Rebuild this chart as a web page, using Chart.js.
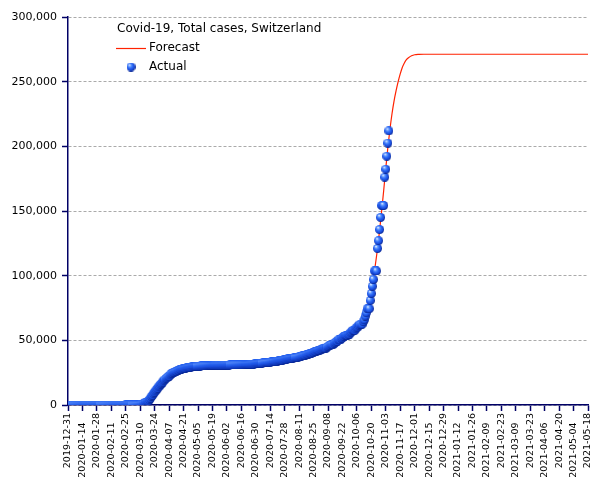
<!DOCTYPE html>
<html>
<head>
<meta charset="utf-8">
<script src="https://cdn.jsdelivr.net/npm/chart.js@4.4.0/dist/chart.umd.min.js"></script>
<style>
  html, body { margin: 0; padding: 0; background: #fff; }
  #wrap { width: 605px; height: 480px; }
</style>
</head>
<body>
<div id="wrap"><canvas id="chart" width="605" height="480"></canvas></div>
<script>
// x axis: day number counted from 2019-12-31, one tick every 14 days
const tickLabels = [
  '2019-12-31', '2020-01-14', '2020-01-28', '2020-02-11', '2020-02-25', '2020-03-10',
  '2020-03-24', '2020-04-07', '2020-04-21', '2020-05-05', '2020-05-19', '2020-06-02',
  '2020-06-16', '2020-06-30', '2020-07-14', '2020-07-28', '2020-08-11', '2020-08-25',
  '2020-09-08', '2020-09-22', '2020-10-06', '2020-10-20', '2020-11-03', '2020-11-17',
  '2020-12-01', '2020-12-15', '2020-12-29', '2021-01-12', '2021-01-26', '2021-02-09',
  '2021-02-23', '2021-03-09', '2021-03-23', '2021-04-06', '2021-04-20', '2021-05-04',
  '2021-05-18'
]
const yTicks = [0, 50000, 100000, 150000, 200000, 250000, 300000]

// actual total cases, one value per day
const actualDec = [0]
const actualJan = [0, 0, 0, 0, 0, 0, 0, 0, 0, 0, 0, 0, 0, 0, 0, 0, 0, 0, 0, 0, 0, 0, 0, 0, 0, 0, 0, 0, 0, 0, 0]
const actualFeb = [0, 0, 0, 0, 0, 0, 0, 0, 0, 0, 0, 0, 0, 0, 0, 0, 0, 0, 0, 0, 0, 0, 0, 0, 1, 1, 8, 8, 18]
const actualMar = [27, 42, 56, 90, 114, 214, 268, 337, 374, 491, 652, 652, 1139, 1359, 2200, 2200,
  2700, 3028, 4075, 5294, 6575, 7474, 8795, 9877, 10897, 11811, 12928, 14076, 14829, 15922, 16605]
const actualApr = [17768, 18827, 19606, 20505, 21100, 21657, 22253, 23280, 24051, 24551, 25107, 25415,
  25688, 25936, 26336, 26732, 27078, 27404, 27740, 27944, 28063, 28268, 28496, 28677, 28894, 29061,
  29164, 29264, 29407, 29586]
const actualMay = [29705, 29817, 29905, 29981, 30009, 30060, 30126, 30207, 30251, 30305, 30344, 30380,
  30413, 30463, 30514, 30572, 30587, 30597, 30618, 30658, 30694, 30707, 30725, 30736, 30746, 30761,
  30776, 30796, 30828, 30845, 30862]
const actualJun = [30871, 30874, 30893, 30913, 30936, 30956, 30965, 30972, 30988, 31011, 31044, 31063,
  31094, 31117, 31131, 31154, 31187, 31200, 31235, 31292, 31310, 31332, 31376, 31428, 31486, 31555,
  31617, 31652, 31714, 31851]
const actualJul = [31967, 32101, 32198, 32268, 32315, 32369, 32498, 32586, 32690, 32817, 32883, 32946,
  33016, 33148, 33290, 33382, 33591, 33634, 33742, 33883, 34000, 34154, 34302, 34477, 34609, 34687,
  34802, 34956, 35202, 35412, 35616]
const actualAug = [35746, 35836, 35927, 36108, 36269, 36451, 36603, 36708, 36841, 36936, 37169, 37403,
  37671, 37924, 38124, 38252, 38449, 38760, 39026, 39332, 39627, 39903, 40060, 40262, 40645, 40981,
  41346, 41722, 42014, 42177, 42393]
const actualSep = [42763, 43127, 43532, 43957, 43957, 43957, 44837, 45306, 45711, 46239, 46704, 46704,
  46704, 47751, 48265, 48795, 49283, 50378, 50378, 50378, 51492, 51864, 52646, 53282, 53832, 53832,
  53832, 54384, 54817, 55932]
const actualOct = [56632, 57709, 57709, 57709, 58881, 59870, 60368, 61421, 62416, 62416, 62416, 64436,
  65881, 68704, 71317, 74422, 74422, 74422, 80767, 86167, 91763, 97019, 103653, 103653, 103653,
  121093, 127042, 135658, 145044, 154251, 154251]
const actualNov = [154251, 176177, 182303, 192376, 202504, 211913]

// forecast (day number, total cases)
const forecastDays = [0, 60, 66, 70, 73, 76, 79, 82, 85, 88, 91, 95, 100, 105, 110, 115, 120, 130,
  140, 150, 165, 180, 195, 210, 225, 240, 255, 265, 275, 282, 286, 290, 292, 294, 296, 298, 300,
  302, 304, 306, 308, 310, 312, 314, 316, 318, 320, 322, 324, 326, 328, 330, 333, 336, 340, 345, 504]
const forecastValues = [0, 0, 300, 700, 1500, 3000, 5500, 8500, 11500, 14500, 17000, 20300, 23500,
  25800, 27300, 28400, 29200, 30000, 30400, 30700, 31000, 31600, 32700, 34200, 36800, 40800, 46000,
  50500, 55500, 60000, 65000, 72000, 79000, 88000, 98000, 109000, 121000, 135000, 150000, 166000,
  183000, 199000, 213000, 225000, 235000, 243000, 250000, 256000, 261000, 264500, 267000, 268500,
  270000, 270800, 271100, 271200, 271200]

const navy = '#000066'
const red = '#ff2200'

function makeBall(size) {
  const c = document.createElement('canvas')
  c.width = c.height = size
  const g = c.getContext('2d')
  const r = size / 2
  const grad = g.createRadialGradient(r * 0.65, r * 0.55, 0.2, r * 0.9, r * 0.85, r * 1.05)
  grad.addColorStop(0, '#eef4ff')
  grad.addColorStop(0.25, '#6a9fff')
  grad.addColorStop(0.55, '#2a68f5')
  grad.addColorStop(0.85, '#1748d8')
  grad.addColorStop(1, '#0a2a99')
  g.fillStyle = grad
  g.beginPath()
  g.arc(r, r, r, 0, Math.PI * 2)
  g.fill()
  return c
}
const ball = makeBall(9)

const actualCases = [].concat(actualDec, actualJan, actualFeb, actualMar, actualApr, actualMay,
  actualJun, actualJul, actualAug, actualSep, actualOct, actualNov)
const actualPoints = actualCases.map((v, i) => ({ x: i, y: v }))
const forecastPoints = forecastDays.map((d, i) => ({ x: d, y: forecastValues[i] }))

// legend sits inside the plot, top left
const insideLegend = {
  id: 'insideLegend',
  afterDraw(chart) {
    const ctx = chart.ctx
    ctx.save()
    ctx.fillStyle = '#000'
    ctx.font = '12px "DejaVu Sans"'
    ctx.textBaseline = 'middle'
    ctx.fillText('Covid-19, Total cases, Switzerland', 117, 29)
    ctx.strokeStyle = red
    ctx.lineWidth = 1.2
    ctx.beginPath()
    ctx.moveTo(116, 48.5)
    ctx.lineTo(146, 48.5)
    ctx.stroke()
    ctx.fillText(chart.data.datasets[1].label, 149, 48)
    ctx.drawImage(ball, 131 - 4.5, 67 - 4.5)
    ctx.fillText(chart.data.datasets[0].label, 149, 67)
    ctx.restore()
  }
}

new Chart(document.getElementById('chart'), {
  type: 'scatter',
  data: {
    datasets: [{
      label: 'Actual',
      data: actualPoints,
      showLine: false,
      pointStyle: ball,
      pointRadius: 4.5,
      order: 0
    }, {
      label: 'Forecast',
      data: forecastPoints,
      showLine: true,
      borderColor: red,
      borderWidth: 1.2,
      pointRadius: 0,
      cubicInterpolationMode: 'monotone',
      order: 1
    }]
  },
  options: {
    responsive: false,
    animation: false,
    devicePixelRatio: 1,
    layout: { padding: { left: 0, right: 17, top: 17, bottom: 0 } },
    plugins: {
      legend: { display: false },
      tooltip: { enabled: false }
    },
    scales: {
      x: {
        type: 'linear',
        min: 0,
        max: 504,
        afterFit: s => { s.height = 75 },
        afterBuildTicks: s => { s.ticks = tickLabels.map((_, i) => ({ value: i * 14 })) },
        border: { color: navy, width: 1.5 },
        grid: { drawOnChartArea: false, color: navy, tickLength: 6, tickWidth: 1.5 },
        ticks: {
          autoSkip: false,
          minRotation: 90,
          maxRotation: 90,
          padding: 2,
          color: '#000',
          font: { family: 'DejaVu Sans', size: 9.5 },
          // every second label is pushed away from the axis, as in the original
          callback: (v, i) => i % 2 ? tickLabels[i] + '\u2002\u2002' : tickLabels[i]
        }
      },
      y: {
        min: 0,
        max: 300000,
        afterFit: s => { s.width = 68 },
        afterBuildTicks: s => { s.ticks = yTicks.map(v => ({ value: v })) },
        border: { color: navy, width: 1.5, dash: [3, 2] },
        grid: { color: '#aaaaaa', tickColor: navy, tickLength: 6, tickWidth: 1.5 },
        ticks: {
          padding: 5,
          color: '#000',
          font: { family: 'DejaVu Sans', size: 11 },
          callback: v => v.toLocaleString('en-US')
        }
      }
    }
  },
  plugins: [insideLegend]
})
</script>
</body>
</html>
